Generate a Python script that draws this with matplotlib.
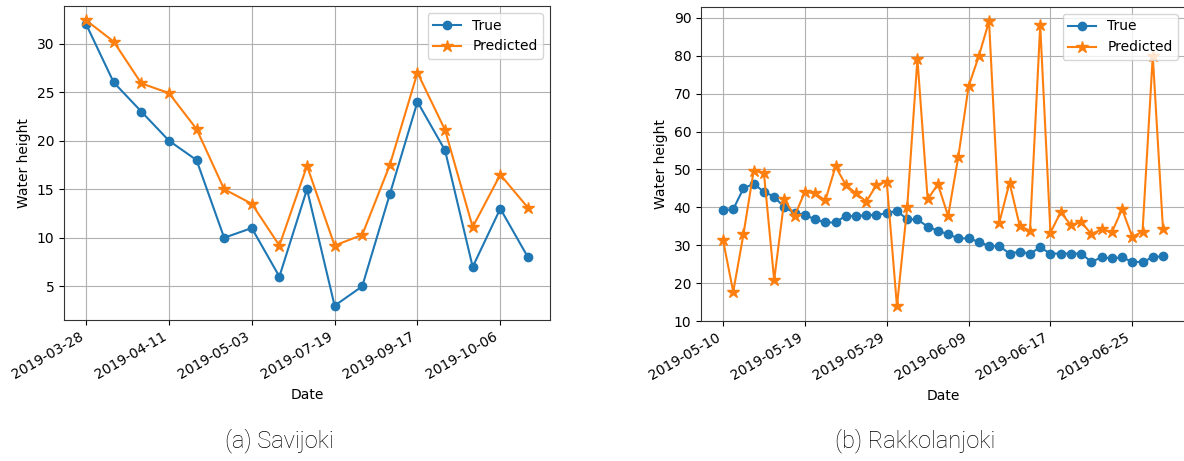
import matplotlib
matplotlib.use("Agg")
import matplotlib.pyplot as plt

# Savijoki
sav_true = [32, 26, 23, 20, 18, 10, 11, 6, 15, 3, 5, 14.5, 24, 19, 7, 13, 8]
sav_pred = [32.4, 30.2, 25.9, 24.9, 21.2, 15, 13.5, 9.2, 17.4, 9.2, 10.3, 17.5,
            27.0, 21.1, 11.1, 16.5, 13.1]
sav_ticklabels = ['2019-03-28', '2019-04-11', '2019-05-03', '2019-07-19',
                  '2019-09-17', '2019-10-06']

# Rakkolanjoki
rak_true = [39.2, 39.5, 45, 46.2, 44.1, 42.8, 40, 38.5, 38, 36.8, 36, 36, 37.8, 37.6,
            38, 38, 38.4, 39.1, 36.8, 36.8, 34.9, 33.8, 32.9, 31.8, 31.8, 30.9,
            29.8, 29.8, 27.8, 28.3, 27.8, 29.4, 27.8, 27.8, 27.8, 27.8, 25.6, 26.8,
            26.5, 26.8, 25.6, 25.6, 26.8, 27.1]
rak_pred = [31.4, 17.7, 32.9, 49.7, 49, 20.8, 42.1, 37.7, 44.1, 43.7, 41.8, 50.8,
            45.9, 43.7, 41.5, 45.9, 46.8, 13.9, 40, 79.2, 42.1, 46.1, 37.7, 53.4,
            71.9, 79.9, 89.1, 35.9, 46.5, 35.1, 33.8, 88, 33.3, 38.7, 35.3, 36.2,
            32.9, 34.2, 33.4, 39.5, 32.2, 33.6, 80, 34.2]
rak_ticklabels = ['2019-05-10', '2019-05-19', '2019-05-29', '2019-06-09',
                  '2019-06-17', '2019-06-25']

W, H = 1184, 461
fig = plt.figure(figsize=(W / 100, H / 100), dpi=100)


def px_axes(x0, y0, x1, y1):
    return fig.add_axes([x0 / W, (H - y1) / H, (x1 - x0) / W, (y1 - y0) / H])


def draw(ax, true, pred, labels, step):
    x = list(range(len(true)))
    ax.plot(x, true, marker='o', color='#1f77b4', label='True')
    ax.plot(x, pred, marker='*', markersize=9, color='#ff7f0e', label='Predicted')
    ax.set_xticks(list(range(0, len(true), step))[:len(labels)])
    ax.set_xticklabels(labels, rotation=30, ha='right')
    ax.set_xlabel('Date')
    ax.set_ylabel('Water height')
    ax.grid(True)
    ax.legend(loc='upper right')
    for s in ax.spines.values():
        s.set_color('#333333')


ax1 = px_axes(64, 6, 550, 320)
draw(ax1, sav_true, sav_pred, sav_ticklabels, 3)
ax1.set_yticks([5, 10, 15, 20, 25, 30])

ax2 = px_axes(701, 7, 1185, 321)
draw(ax2, rak_true, rak_pred, rak_ticklabels, 8)
ax2.set_yticks(range(10, 91, 10))

fig.text(279 / W, 1 - 441 / H, '(a) Savijoki', ha='center', va='center',
         fontsize=17, family='Roboto', fontweight='light', color='black')
fig.text(915 / W, 1 - 441 / H, '(b) Rakkolanjoki', ha='center', va='center',
         fontsize=17, family='Roboto', fontweight='light', color='black')

fig.savefig('out.png', dpi=100)
